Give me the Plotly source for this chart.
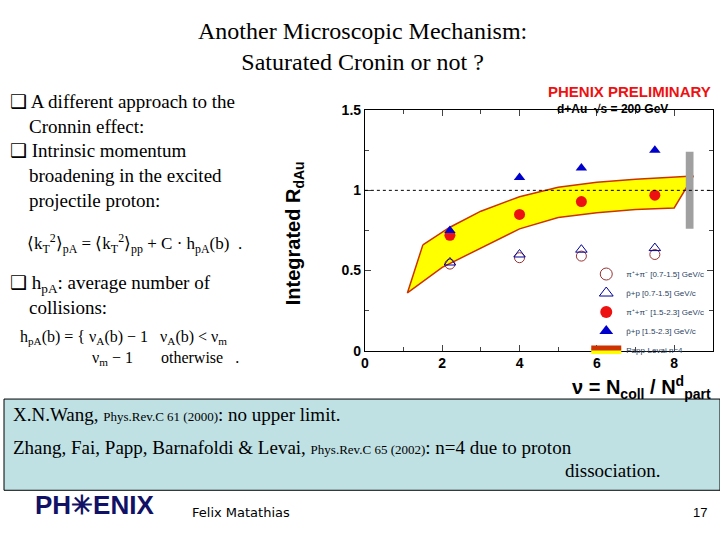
import plotly.graph_objects as go

# data
nu = [2.2, 4.0, 5.6, 7.5]
pi_low = [0.54, 0.58, 0.59, 0.60]
p_low = [0.55, 0.60, 0.63, 0.64]
pi_high = [0.72, 0.85, 0.93, 0.97]
p_high = [0.75, 1.08, 1.14, 1.25]

band_up_x = [1.5, 2.2, 3.0, 4.0, 5.0, 6.0, 7.0, 8.3]
band_up_y = [0.66, 0.77, 0.87, 0.96, 1.02, 1.05, 1.07, 1.09]
band_lo_x = [1.1, 2.0, 3.0, 4.0, 5.0, 6.0, 7.0, 8.0]
band_lo_y = [0.36, 0.52, 0.64, 0.76, 0.83, 0.86, 0.88, 0.89]
sys_x = [8.3, 8.5]
sys_y = [0.76, 1.24]

serif = "Liberation Serif"
sans = "Liberation Sans"

fig = go.Figure()

# theory band polygon
bx = band_up_x + [8.5] + band_lo_x[::-1]
by = band_up_y + [1.09] + band_lo_y[::-1]
fig.add_trace(go.Scatter(x=bx + [bx[0]], y=by + [by[0]], fill="toself", fillcolor="#ffff00",
                         line=dict(color="#cc3300", width=1.5), mode="lines",
                         name="Papp-Levai n=4", legendrank=5))
fig.add_shape(type="rect", x0=sys_x[0], x1=sys_x[1], y0=sys_y[0], y1=sys_y[1],
              fillcolor="#a0a0a0", line_width=0)
fig.add_hline(y=1, line=dict(color="black", width=1, dash="dot"))

fig.add_trace(go.Scatter(x=nu, y=pi_low, mode="markers", name="π⁺+π⁻ [0.7-1.5] GeV/c",
                         marker=dict(symbol="circle-open", size=10, color="#993333"), legendrank=1))
fig.add_trace(go.Scatter(x=nu, y=p_low, mode="markers", name="p̄+p [0.7-1.5] GeV/c",
                         marker=dict(symbol="triangle-up-open", size=10, color="#000099"), legendrank=2))
fig.add_trace(go.Scatter(x=nu, y=pi_high, mode="markers", name="π⁺+π⁻ [1.5-2.3] GeV/c",
                         marker=dict(symbol="circle", size=11, color="#ee1111"), legendrank=3))
fig.add_trace(go.Scatter(x=nu, y=p_high, mode="markers", name="p̄+p [1.5-2.3] GeV/c",
                         marker=dict(symbol="triangle-up", size=10, color="#0000cc"), legendrank=4))

axis_common = dict(showgrid=False, zeroline=False, showline=True, linecolor="black", mirror="ticks",
                   ticks="inside", ticklen=6, tickfont=dict(family=sans, size=14, color="black"))
fig.update_xaxes(range=[0, 9], domain=[0.504, 0.99], tickvals=[0, 2, 4, 6, 8],
                 ticktext=["<b>0</b>", "<b>2</b>", "<b>4</b>", "<b>6</b>", "<b>8</b>"],
                 minor=dict(ticks="inside", ticklen=4, dtick=1), **axis_common)
fig.update_yaxes(range=[0, 1.5], domain=[0.346, 0.805], tickvals=[0, 0.5, 1, 1.5],
                 ticktext=["<b>0</b>", "<b>0.5</b>", "<b>1</b>", "<b>1.5</b>"],
                 minor=dict(ticks="inside", ticklen=4, dtick=0.25), **axis_common)

ann = [
    dict(x=0.5, y=0.985, text="Another Microscopic Mechanism:<br>Saturated Cronin or not ?",
         font=dict(family=serif, size=24), xanchor="center", yanchor="top"),
    dict(x=0.005, y=0.845, align="left", xanchor="left", yanchor="top",
         font=dict(family=serif, size=19),
         text="❑ A different approach to the<br>    Cronnin effect:<br>❑ Intrinsic momentum<br>"
              "    broadening in the excited<br>    projectile proton:"),
    dict(x=0.03, y=0.55, xanchor="left", font=dict(family=serif, size=17),
         text="⟨k<sub>T</sub><sup>2</sup>⟩<sub>pA</sub> = ⟨k<sub>T</sub><sup>2</sup>⟩<sub>pp</sub> + C · h<sub>pA</sub>(b)  ."),
    dict(x=0.005, y=0.5, align="left", xanchor="left", yanchor="top", font=dict(family=serif, size=19),
         text="❑ h<sub>pA</sub>: average number of<br>    collisions:"),
    dict(x=0.02, y=0.31, xanchor="left", align="left", font=dict(family=serif, size=16),
         text="h<sub>pA</sub>(b) = { ν<sub>A</sub>(b) − 1   ν<sub>A</sub>(b) < ν<sub>m</sub><br>"
              "                  ν<sub>m</sub> − 1       otherwise   ."),
    dict(x=0.405, y=0.57, textangle=-90, font=dict(family=sans, size=20, color="black"),
         text="<b>Integrated R<sub>dAu</sub></b>"),
    dict(x=0.99, y=0.86, xanchor="right", font=dict(family=sans, size=15, color="#ee1111"),
         text="<b>PHENIX PRELIMINARY</b>"),
    dict(x=0.93, y=0.825, xanchor="right", font=dict(family=sans, size=12),
         text="<b>d+Au  √s = 200 GeV</b>"),
    dict(x=0.99, y=0.245, xanchor="right", font=dict(family=sans, size=20),
         text="<b>ν = N<sub>coll</sub> / N<sup>d</sup><sub>part</sub></b>"),
    dict(x=0.01, y=0.2, xanchor="left", align="left", font=dict(family=serif, size=19),
         text="X.N.Wang, <span style='font-size:13px'>Phys.Rev.C 61 (2000)</span>: no upper limit."),
    dict(x=0.01, y=0.137, xanchor="left", align="left", font=dict(family=serif, size=19),
         text="Zhang, Fai, Papp, Barnafoldi & Levai, <span style='font-size:13px'>Phys.Rev.C 65 (2002)</span>: n=4 due to proton"),
    dict(x=0.92, y=0.093, xanchor="right", font=dict(family=serif, size=19), text="dissociation."),
    dict(x=0.04, y=0.02, xanchor="left", font=dict(family=sans, size=26, color="#111166"),
         text="<b>PH✳ENIX</b>"),
    dict(x=0.26, y=0.02, xanchor="left", font=dict(family="DejaVu Sans", size=13), text="Felix Matathias"),
    dict(x=0.985, y=0.02, xanchor="right", font=dict(family=sans, size=13), text="17"),
]
for a in ann:
    a.setdefault("font", {})
    a["font"].setdefault("color", "black")
    fig.add_annotation(xref="paper", yref="paper", showarrow=False, **a)

fig.add_shape(type="rect", xref="paper", yref="paper", x0=0, x1=1, y0=1 - 497 / 540, y1=1 - 403 / 540,
              fillcolor="#bfe1e4", line=dict(color="black", width=1), layer="below")

fig.update_layout(
    width=720, height=540, margin=dict(l=0, r=0, t=0, b=0),
    plot_bgcolor="white", paper_bgcolor="white",
    legend=dict(x=0.985, y=0.52, xanchor="right", yanchor="top", bgcolor="rgba(255,255,255,0)",
                font=dict(family=sans, size=8), tracegroupgap=0, itemsizing="constant",
                itemwidth=30),
)

fig.write_html("out.html", config={"displayModeBar": False},
               post_script="document.body.style.margin='0';")
